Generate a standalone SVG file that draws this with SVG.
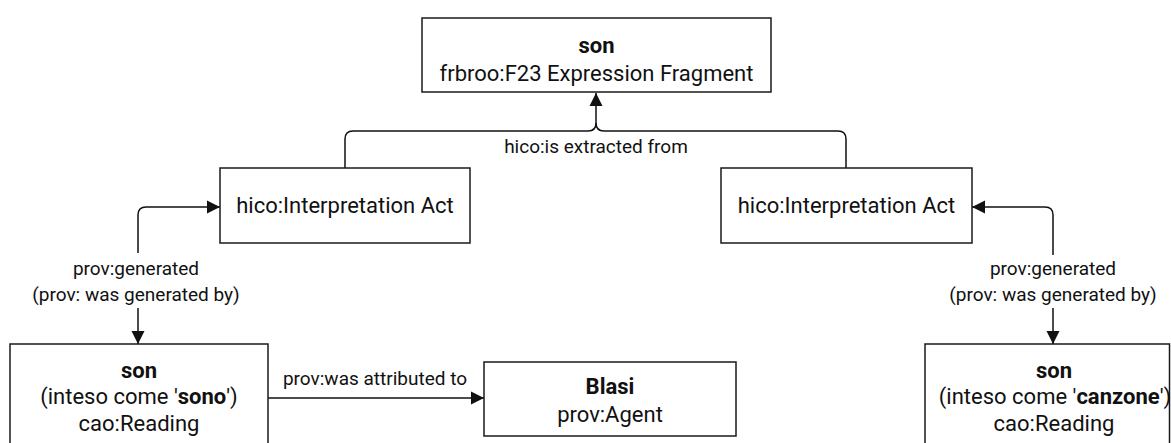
<svg xmlns="http://www.w3.org/2000/svg" width="1171" height="443" viewBox="0 0 1171 443">
  <style>
    .box { fill: #ffffff; stroke: #1a1a1a; stroke-width: 1.5; }
    .node { font-family: Roboto, "Liberation Sans", sans-serif; font-size: 22px; fill: #111; text-anchor: middle; }
    .lbl { font-family: Roboto, "Liberation Sans", sans-serif; font-size: 19px; fill: #111; text-anchor: middle; }
    .b { font-weight: bold; }
    .edge { fill: none; stroke: #111; stroke-width: 1.5; }
  </style>
  <defs>
    <marker id="arrow" markerUnits="userSpaceOnUse" markerWidth="14" markerHeight="14" viewBox="0 0 14 14" refX="13" refY="7" orient="auto">
      <path d="M0,0.5 L13,7 L0,13.5 Z" fill="#111"/>
    </marker>
  </defs>
  <rect width="1171" height="443" fill="#ffffff"/>

  <g id="connectors">
    <path class="edge" d="M345,168 V139 Q345,131 353,131 H588 Q596,131 596,123 V93" marker-end="url(#arrow)"/>
    <path class="edge" d="M846,168 V139 Q846,131 838,131 H604 Q596,131 596,123"/>
    <path class="edge" d="M138,253 V215 Q138,207 146,207 H220" marker-end="url(#arrow)"/>
    <path class="edge" d="M138,308 V344" marker-end="url(#arrow)"/>
    <path class="edge" d="M268,398 H484" marker-end="url(#arrow)"/>
    <path class="edge" d="M1053,255 V215 Q1053,207 1045,207 H972" marker-end="url(#arrow)"/>
    <path class="edge" d="M1053,308 V344" marker-end="url(#arrow)"/>
    <text class="lbl" x="596" y="153">hico:is extracted from</text>
    <text class="lbl" x="136" y="275">prov:generated</text>
    <text class="lbl" x="136" y="301">(prov: was generated by)</text>
    <text class="lbl" x="1053" y="275">prov:generated</text>
    <text class="lbl" x="1053" y="301">(prov: was generated by)</text>
    <text class="lbl" x="375" y="385">prov:was attributed to</text>
  </g>

  <g id="fragment">
    <rect class="box" x="422" y="18" width="349" height="74"/>
    <text class="node b" x="596.5" y="53">son</text>
    <text class="node" x="596.5" y="81">frbroo:F23 Expression Fragment</text>
  </g>

  <g id="act-left">
    <rect class="box" x="220" y="168" width="250" height="75"/>
    <text class="node" x="345" y="213">hico:Interpretation Act</text>
  </g>

  <g id="act-right">
    <rect class="box" x="721" y="168" width="251" height="75"/>
    <text class="node" x="846.5" y="213">hico:Interpretation Act</text>
  </g>

  <g id="reading-sono">
    <rect class="box" x="10" y="344" width="258" height="110"/>
    <text class="node b" x="139" y="378">son</text>
    <text class="node" x="139" y="404">(inteso come '<tspan class="b">sono</tspan>')</text>
    <text class="node" x="139" y="431">cao:Reading</text>
  </g>

  <g id="agent-blasi">
    <rect class="box" x="484" y="362" width="252" height="74"/>
    <text class="node b" x="610" y="394">Blasi</text>
    <text class="node" x="610" y="422">prov:Agent</text>
  </g>

  <g id="reading-canzone">
    <rect class="box" x="925" y="344" width="244.5" height="110"/>
    <text class="node b" x="1054" y="378">son</text>
    <text class="node" x="1055" y="404">(inteso come '<tspan class="b">canzone</tspan>')</text>
    <text class="node" x="1054" y="431">cao:Reading</text>
  </g>
</svg>
